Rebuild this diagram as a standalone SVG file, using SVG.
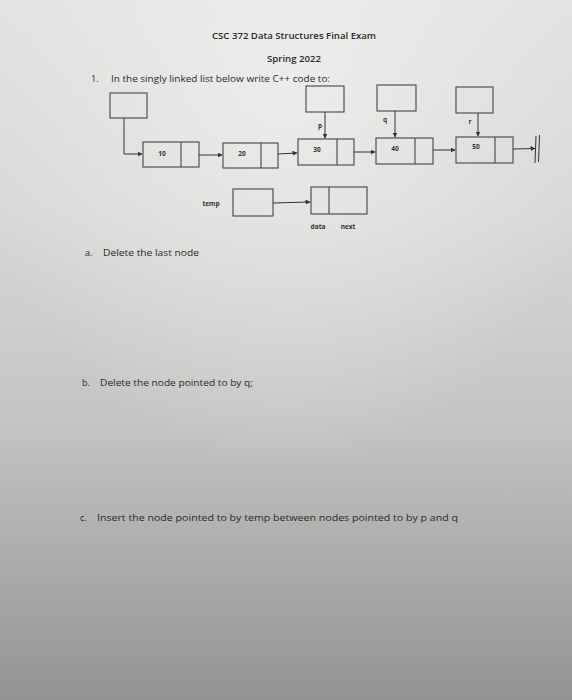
<svg xmlns="http://www.w3.org/2000/svg" width="572" height="700" viewBox="0 0 572 700">
<defs>
<linearGradient id="bg" x1="0" y1="0" x2="0" y2="1">
<stop offset="0" stop-color="#e2e2e0"/>
<stop offset="0.3" stop-color="#d8d8d6"/>
<stop offset="0.6" stop-color="#c4c4c2"/>
<stop offset="0.8" stop-color="#acacaa"/>
<stop offset="1" stop-color="#939391"/>
</linearGradient>
<radialGradient id="hl" cx="0.5" cy="0.12" r="0.55">
<stop offset="0" stop-color="#f2f2f0" stop-opacity="0.7"/>
<stop offset="1" stop-color="#f2f2f0" stop-opacity="0"/>
</radialGradient>
<marker id="ah" viewBox="0 0 10 10" refX="9" refY="5" markerWidth="5" markerHeight="5" orient="auto">
<path d="M0,0 L10,5 L0,10 z" fill="#333"/>
</marker>
<style>
.t{font-family:"Open Sans","Liberation Sans",sans-serif;font-size:9px;fill:#2a2a2a;}
.tb{font-family:"Open Sans","Liberation Sans",sans-serif;font-size:9px;fill:#2a2a2a;font-weight:600;}
.n{font-family:"Open Sans","Liberation Sans",sans-serif;font-size:6.5px;fill:#333;font-weight:700;text-anchor:middle;}
.bx{fill:none;stroke:#444;stroke-width:1.1;}
.ln{fill:none;stroke:#333;stroke-width:1;}
</style>
</defs>
<rect width="572" height="700" fill="url(#bg)"/>
<rect width="572" height="700" fill="url(#hl)"/>

<g id="header">
<text class="tb" x="212" y="39" textLength="164" lengthAdjust="spacingAndGlyphs">CSC 372 Data Structures Final Exam</text>
<text class="tb" x="267" y="62" textLength="54" lengthAdjust="spacingAndGlyphs">Spring 2022</text>
<text class="t" x="91" y="82">1.</text>
<text class="t" x="111" y="82" textLength="219" lengthAdjust="spacingAndGlyphs">In the singly linked list below write C++ code to:</text>
</g>

<g id="head"><rect class="bx" x="110" y="93" width="37" height="25"/></g>
<g id="p"><rect class="bx" x="306" y="86" width="38" height="26"/><text class="n" x="320" y="128">p</text></g>
<g id="q"><rect class="bx" x="377" y="85" width="39" height="26"/><text class="n" x="385" y="122">q</text></g>
<g id="r"><rect class="bx" x="456" y="87" width="37" height="26"/><text class="n" x="470" y="124">r</text></g>

<g id="node10"><rect class="bx" x="143" y="142" width="56" height="25"/><line class="bx" x1="181" y1="142" x2="181" y2="167"/><text class="n" x="162" y="156">10</text></g>
<g id="node20"><rect class="bx" x="223" y="143" width="55" height="25"/><line class="bx" x1="261" y1="143" x2="261" y2="168"/><text class="n" x="242" y="156">20</text></g>
<g id="node30"><rect class="bx" x="298" y="139" width="56" height="26"/><line class="bx" x1="337" y1="139" x2="337" y2="165"/><text class="n" x="317" y="152">30</text></g>
<g id="node40"><rect class="bx" x="376" y="138" width="57" height="26"/><line class="bx" x1="415" y1="138" x2="415" y2="164"/><text class="n" x="395" y="151">40</text></g>
<g id="node50"><rect class="bx" x="456" y="137" width="57" height="26"/><line class="bx" x1="495" y1="137" x2="495" y2="163"/><text class="n" x="476" y="149">50</text></g>
<g id="null"><line class="ln" x1="536" y1="136" x2="535" y2="163"/><line class="ln" x1="539.5" y1="135" x2="538.5" y2="162"/></g>

<g id="temp"><text class="n" x="211" y="206">temp</text><rect class="bx" x="233" y="189" width="40" height="27"/></g>
<g id="newnode"><rect class="bx" x="311" y="187" width="56" height="27"/><line class="bx" x1="329" y1="187" x2="329" y2="214"/><text class="n" x="318" y="229">data</text><text class="n" x="348" y="229">next</text></g>

<g id="connectors">
<polyline class="ln" points="124,118 124,154 142,154" marker-end="url(#ah)"/>
<line class="ln" x1="199" y1="155" x2="222" y2="155" marker-end="url(#ah)"/>
<line class="ln" x1="278" y1="154" x2="297" y2="153" marker-end="url(#ah)"/>
<line class="ln" x1="354" y1="152" x2="375" y2="152" marker-end="url(#ah)"/>
<line class="ln" x1="433" y1="150" x2="455" y2="150" marker-end="url(#ah)"/>
<line class="ln" x1="513" y1="149" x2="535" y2="148.5" marker-end="url(#ah)"/>
<line class="ln" x1="325" y1="112" x2="325" y2="138" marker-end="url(#ah)"/>
<line class="ln" x1="395" y1="111" x2="395" y2="137" marker-end="url(#ah)"/>
<line class="ln" x1="478" y1="113" x2="478" y2="136" marker-end="url(#ah)"/>
<line class="ln" x1="273" y1="203" x2="310" y2="202" marker-end="url(#ah)"/>
</g>

<g id="questions">
<text class="t" x="85" y="256">a.</text>
<text class="t" x="103" y="256" textLength="96" lengthAdjust="spacingAndGlyphs">Delete the last node</text>
<text class="t" x="82" y="386">b.</text>
<text class="t" x="100" y="386" textLength="153" lengthAdjust="spacingAndGlyphs">Delete the node pointed to by q;</text>
<text class="t" x="80" y="521">c.</text>
<text class="t" x="97" y="521" textLength="361" lengthAdjust="spacingAndGlyphs">Insert the node pointed to by temp between nodes pointed to by p and q</text>
</g>
</svg>
